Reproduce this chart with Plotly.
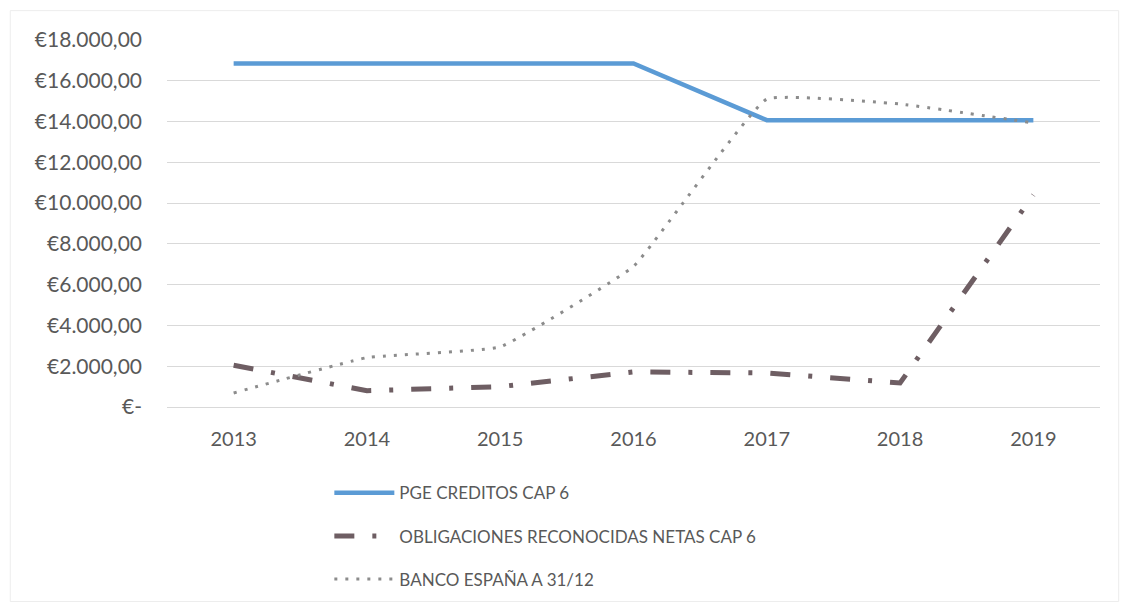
import plotly.graph_objects as go

years = ["2013", "2014", "2015", "2016", "2017", "2018", "2019"]
pge_creditos = [16850, 16850, 16850, 16850, 14070, 14070, 14070]
obligaciones = [2050, 800, 1000, 1720, 1670, 1180, 10400]
banco_espana = [690, 2420, 2950, 6900, 15100, 14860, 13930]

y_ticks = [0, 2000, 4000, 6000, 8000, 10000, 12000, 14000, 16000, 18000]
y_labels = ["€-", "€2.000,00", "€4.000,00", "€6.000,00", "€8.000,00",
            "€10.000,00", "€12.000,00", "€14.000,00", "€16.000,00", "€18.000,00"]

font_main = "Lato, 'Open Sans', sans-serif"
txt_color = "#595959"

fig = go.Figure()
fig.add_trace(go.Scatter(
    x=years, y=pge_creditos, mode="lines",
    name="PGE CREDITOS CAP 6", legendgroup="a",
    line=dict(color="#5B9BD5", width=4.5)
))
fig.add_trace(go.Scatter(
    x=years, y=obligaciones, mode="lines",
    name="OBLIGACIONES RECONOCIDAS NETAS CAP 6", legendgroup="b",
    line=dict(color="#6E5E63", width=5, dash="20px,18px,4px,18px")
))
fig.add_trace(go.Scatter(
    x=years, y=banco_espana, mode="lines",
    name="BANCO ESPAÑA A 31/12", legendgroup="c",
    line=dict(color="#8C8C8C", width=3, dash="3px,8px", shape="spline", smoothing=0.3)
))

# page body adds an 8px margin, so the figure is a bit smaller than the window
fig.update_layout(
    width=1123, height=601,
    paper_bgcolor="white", plot_bgcolor="white",
    margin=dict(l=159, r=31, t=32, b=202),
    font=dict(family=font_main, color=txt_color, size=17),
    showlegend=True,
    legend=dict(
        x=0.174, y=-0.186, xanchor="left", yanchor="top",
        orientation="v", itemwidth=60, tracegroupgap=18,
        font=dict(size=17, color=txt_color),
        bgcolor="rgba(0,0,0,0)"
    ),
    xaxis=dict(
        type="category", range=[-0.5, 6.5],
        showgrid=False, zeroline=False, showline=False,
        ticks="", ticklabelstandoff=18,
        tickfont=dict(size=20, color=txt_color)
    ),
    yaxis=dict(
        range=[0, 18000], tickvals=y_ticks, ticktext=y_labels,
        showgrid=True, gridcolor="#D9D9D9", gridwidth=1,
        zeroline=True, zerolinecolor="#D9D9D9", zerolinewidth=1,
        showline=False, ticks="", ticklabelstandoff=24,
        tickfont=dict(size=21, color=txt_color)
    ),
    shapes=[dict(
        type="rect", xref="paper", yref="paper",
        x0=-0.168, x1=1.02, y0=-0.53, y1=1.08,
        line=dict(color="#EDEDED", width=1)
    )]
)

fig.write_html("out.html")
